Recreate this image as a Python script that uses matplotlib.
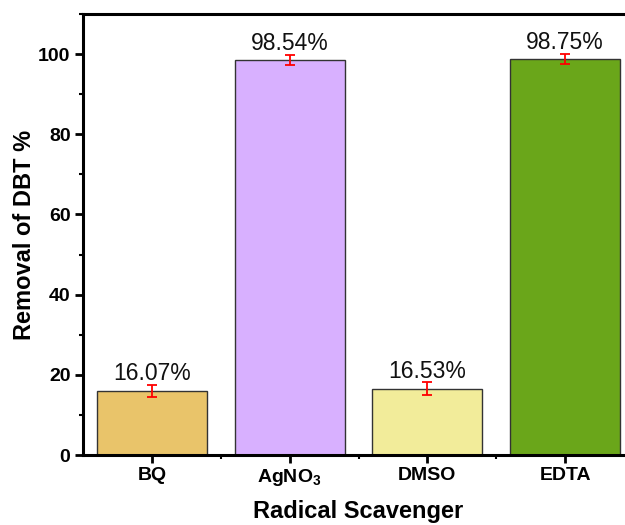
import matplotlib
matplotlib.use("Agg")
import matplotlib.pyplot as plt
from matplotlib.ticker import MultipleLocator

plt.rcParams['font.family'] = ['Liberation Sans', 'DejaVu Sans']
plt.rcParams['mathtext.fontset'] = 'custom'
plt.rcParams['mathtext.rm'] = 'Liberation Sans:bold'
plt.rcParams['mathtext.bf'] = 'Liberation Sans:bold'

categories = ["BQ", "AgNO$_3$", "DMSO", "EDTA"]
values = [16.07, 98.54, 16.53, 98.75]
errors = [1.5, 1.25, 1.6, 1.2]
labels = ["16.07%", "98.54%", "16.53%", "98.75%"]
colors = ["#E9C46A", "#D8B0FF", "#F2EC9A", "#6AA61A"]

fig = plt.figure(figsize=(6.25, 5.25), dpi=100)
ax = fig.add_axes([83/625, 70/525, (634-83)/625, 441/525])

x = list(range(len(categories)))
ax.bar(x, values, width=0.8, color=colors, edgecolor="#333333", linewidth=1.0, zorder=2)
ax.errorbar(x, values, yerr=errors, fmt="none", ecolor="red", elinewidth=1.3,
            capsize=3.8, capthick=1.3, zorder=3)
for xi, v, lab in zip(x, values, labels):
    ax.text(xi, v + 2.6, lab, ha="center", va="baseline", fontsize=16.5, color="#111111")

ax.set_xlim(-0.5, 3.5)
ax.set_ylim(0, 110)
ax.set_xticks(x)
ax.set_xticklabels(categories, fontsize=14, fontweight="bold")
ax.set_xticks([0.5, 1.5, 2.5], minor=True)
ax.yaxis.set_major_locator(MultipleLocator(20))
ax.yaxis.set_minor_locator(MultipleLocator(10))
ax.set_yticks([0, 20, 40, 60, 80, 100])
for t in ax.get_yticklabels():
    t.set_fontsize(14)
    t.set_fontweight("bold")

ax.tick_params(axis="both", which="major", direction="out", length=6, width=2, pad=3)
ax.tick_params(axis="both", which="minor", direction="out", length=3, width=1.5)
for s in ax.spines.values():
    s.set_linewidth(2.2)

ax.set_xlabel("Radical Scavenger", fontsize=17, fontweight="bold", labelpad=8)
ax.set_ylabel("Removal of DBT %", fontsize=17, fontweight="bold", labelpad=1.5)

fig.savefig("out.png", dpi=100)
